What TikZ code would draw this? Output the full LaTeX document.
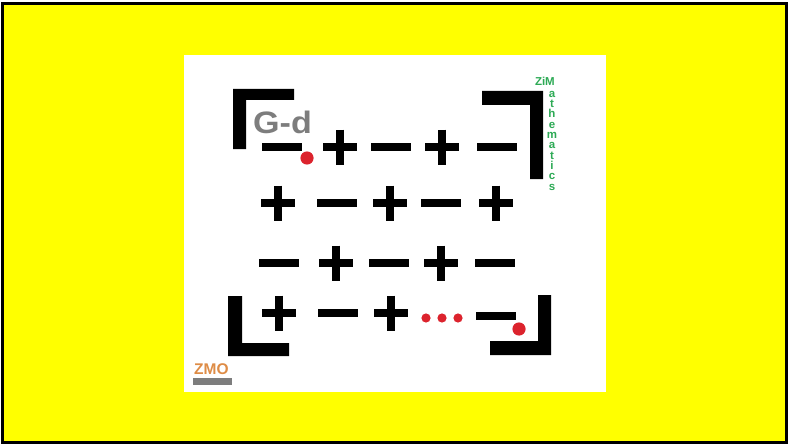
\documentclass[tikz,border=0pt]{standalone}
\usepackage{fontspec}
\setmainfont{Liberation Sans}
\definecolor{dotred}{RGB}{220,35,45}
\definecolor{zimgreen}{RGB}{45,170,85}
\definecolor{zmoorange}{RGB}{222,140,70}
\definecolor{gdgray}{RGB}{125,125,125}
\definecolor{cardyellow}{RGB}{255,255,0}

\begin{document}
\begin{tikzpicture}[x=1pt, y=-1pt,
    sign/.style={line width=7.5pt},
    bracket/.style={fill=black},
    reddot/.style={fill=dotred},
    zim/.style={text=zimgreen, inner sep=0pt, anchor=base,
                text height=7pt, text depth=0pt,
                font=\bfseries\fontsize{11.5}{11.5}\selectfont}]
  \useasboundingbox (0,0) rectangle (788,444);

  % Frame and card
  \draw[line width=3pt, fill=cardyellow] (2.5,3.5) rectangle (786.5,442.5);
  \fill[white] (184,55) rectangle (606,392);

  % Corner brackets
  \fill[bracket] (233,89) -- (294,89) -- (294,100) -- (246,100) -- (246,149) -- (233,149) -- cycle;
  \fill[bracket] (543,91) -- (482,91) -- (482,105) -- (530,105) -- (530,179) -- (543,179) -- cycle;
  \fill[bracket] (228,296) -- (242,296) -- (242,343) -- (289,343) -- (289,356) -- (228,356) -- cycle;
  \fill[bracket] (551,295) -- (538,295) -- (538,341) -- (490,341) -- (490,355) -- (551,355) -- cycle;

  % Minus signs
  \foreach \x/\y in {282/147, 391/147, 497/147, 337/203, 441/203,
                     279/263, 389/263, 495/263, 338/313, 496/316} {
    \draw[sign] (\x-20,\y) -- (\x+20,\y);
  }
  % Plus signs
  \foreach \x/\y in {340/147, 442/147, 278/203, 390/203, 496/203,
                     336/263, 441/263, 279/313, 391/313} {
    \draw[sign] (\x-17,\y) -- (\x+17,\y) (\x,\y-17.5) -- (\x,\y+17.5);
  }

  % Red dots
  \fill[reddot] (307,158) circle (6.6);
  \fill[reddot] (519,329) circle (6.6);
  \foreach \x in {426, 442, 458} {
    \fill[reddot] (\x,318) circle (4.6);
  }

  % Labels
  \node[text=gdgray, inner sep=0pt, anchor=base west,
        font=\bfseries\fontsize{31}{31}\selectfont] (gd) at (253,134) {\scalebox{1.1}[1]{G-d}};
  \node[zim, anchor=base east] (zim) at (555,86) {ZiM};
  \foreach \c [count=\k] in {a,t,h,e,m,a,t,i,c,s} {
    \node[zim] (zm\k) at (552,87+10.3*\k) {\c};
  }
  \node[text=zmoorange, inner sep=0pt, anchor=base west,
        font=\bfseries\fontsize{15.5}{15.5}\selectfont] (zmo) at (194,374) {ZMO};
  \fill[gdgray] (193,378) rectangle (232,385);
\end{tikzpicture}
\end{document}
